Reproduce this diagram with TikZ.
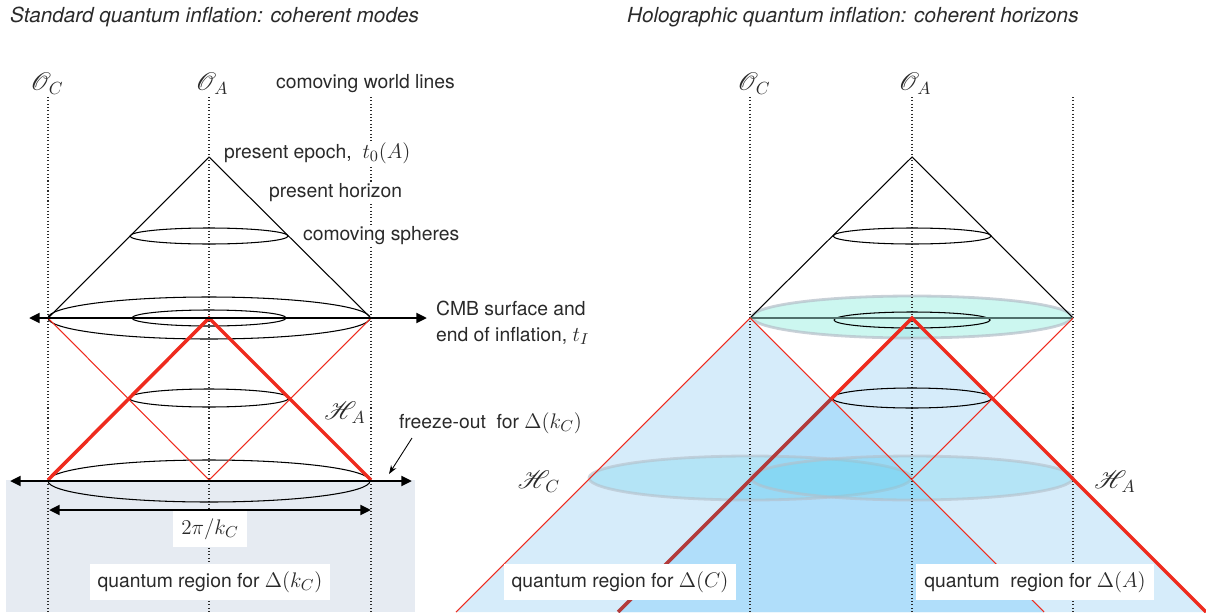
\documentclass[tikz,border=0pt]{standalone}
\usepackage[no-math]{fontspec}
\setmainfont{TeX Gyre Heros}
\usepackage{mathrsfs}
\usetikzlibrary{arrows.meta}
\definecolor{ink}{HTML}{2A2A2A}
\definecolor{hred}{HTML}{EE2B1E}
\definecolor{darkred}{HTML}{B23B3B}
\definecolor{paleblue}{HTML}{D6ECFA}
\definecolor{midblue}{HTML}{B0DEFA}
\definecolor{cyanfill}{HTML}{5AD2EE}
\definecolor{aqua}{HTML}{99EFE1}
\definecolor{rimgray}{HTML}{B4BEC8}
\definecolor{slate}{HTML}{50706C}
\definecolor{fogblue}{HTML}{E6EBF2}

\begin{document}
\begin{tikzpicture}[x=0.02cm,y=-0.02cm,
  every node/.style={font=\fontsize{11}{14.5}\selectfont,text=ink,inner sep=1pt},
  heading/.style={anchor=west,font=\fontsize{11.8}{14}\selectfont\itshape},
  observer/.style={font=\fontsize{14.5}{16}\selectfont},
  note/.style={anchor=west,fill=white},
  tag/.style={fill=white,inner xsep=4.5pt,inner ysep=4pt},
  world/.style={draw=ink,line width=0.6pt,dash pattern=on 0.6pt off 1.3pt},
  cone/.style={draw=black,line width=0.6pt},
  sphere/.style={draw=black,line width=0.6pt},
  horizon/.style={draw=hred,line width=0.6pt},
  horizonA/.style={draw=hred,line width=2pt},
  spanarrow/.style={{Triangle[length=6pt,width=5.5pt]}-{Triangle[length=6pt,width=5.5pt]},line width=1.6pt},
  pointer/.style={-{Stealth[length=5pt,width=3.5pt]},line width=0.5pt},
  shell/.style={fill=cyanfill,fill opacity=0.27,draw=rimgray,draw opacity=0.6,line width=1.6pt}
]
\useasboundingbox (0,0) rectangle (1206,612);

\coordinate (sApex) at (209,157);
\coordinate (sL) at (48,318);
\coordinate (sR) at (371,318);
\coordinate (sMid) at (209,318);
\coordinate (sBL) at (48,480);
\coordinate (sBR) at (371,480);
\coordinate (sFoot) at (209,480);
\coordinate (cmbW) at (29,318);
\coordinate (cmbE) at (427,318);
\coordinate (frzW) at (10,481);
\coordinate (frzE) at (412,481);
\coordinate (waveW) at (49,510);
\coordinate (waveE) at (371,510);
\coordinate (frzTip) at (389,474);

\coordinate (hApex) at (912,157);
\coordinate (hL) at (750,318);
\coordinate (hR) at (1073,318);
\coordinate (hMid) at (912,318);
\coordinate (hX) at (831,399);
\coordinate (hFoot) at (912,479);
\coordinate (hCL) at (456,612);
\coordinate (hCR) at (1044,612);
\coordinate (hAL) at (618,612);
\coordinate (hAR) at (1206,612);

\fill[fogblue] (6,480) rectangle (415,612);
\foreach \x in {48,209,371}
  \draw[world] (\x,97) -- (\x,612);
\draw[cone] (sL) -- (sApex) -- (sR);
\foreach \y/\rx/\ry in {236/79/8,318/161/21,318/77/8,398/80/9,481/161/21}
  \draw[sphere] (209,\y) ellipse [x radius=\rx,y radius=\ry];
\draw[horizon] (sL) -- (sFoot) -- (sR);
\draw[horizonA] (sBL) -- (sMid) -- (sBR);
\draw[spanarrow] (cmbW) -- (cmbE);
\draw[spanarrow] (frzW) -- (frzE);
\draw[spanarrow] (waveW) -- (waveE);

\node[heading] (stdTitle) at (8,17) {Standard quantum inflation: coherent modes};
\node[observer] (sOC) at (47,84) {$\mathscr{O}_C$};
\node[observer] (sOA) at (212,84) {$\mathscr{O}_A$};
\node[note] (worldlines) at (274,84) {comoving world lines};
\node[note] (epoch) at (222,153) {present epoch,\ \ {\fontsize{13}{14}\selectfont$t_0(A)$}};
\node[note] (presHor) at (267,193) {present horizon};
\node[note] (spheres) at (301,236) {comoving spheres};
\node[anchor=west,align=left] (cmb) at (434,323) {CMB surface and\\end of inflation, {\fontsize{13}{14}\selectfont$t_I$}};
\node[observer] (sHA) at (345,413) {$\mathscr{H}_{\,A}$};
\node[anchor=west] (freeze) at (397,423) {freeze-out\ \ for {\fontsize{13}{14}\selectfont$\Delta(k_C)$}};
\node[tag,font=\fontsize{13}{14}\selectfont] (wave) at (210,529) {$2\pi/k_C$};
\node[tag] (sQuant) at (210,582) {quantum region for {\fontsize{13}{14}\selectfont$\Delta(k_C)$}};
\draw[pointer] (412,438) -- (frzTip);

\fill[paleblue] (hL) -- (hCL) -- (hCR) -- cycle;
\fill[paleblue] (hMid) -- (hAL) -- (hAR) -- cycle;
\fill[midblue] (hX) -- (hAL) -- (hCR) -- cycle;
\filldraw[fill=aqua,fill opacity=0.5,draw=rimgray,draw opacity=0.7,line width=1.6pt]
  (912,317) ellipse [x radius=160,y radius=21];
\draw[shell] (750,478) ellipse [x radius=161,y radius=22];
\draw[shell] (912,478) ellipse [x radius=161,y radius=22];
\foreach \x in {750,912,1073}
  \draw[world] (\x,97) -- (\x,612);
\draw[cone] (hL) -- (hApex) -- (hR);
\foreach \y/\rx/\ry in {236/79/8,320/78/8,398/80/10}
  \draw[sphere] (912,\y) ellipse [x radius=\rx,y radius=\ry];
\draw[slate,line width=1.1pt] (hL) -- (hR);
\draw[horizon] (hCL) -- (hL) -- (hCR);
\draw[horizon] (hR) -- (hFoot);
\draw[horizonA] (hX) -- (hMid) -- (hAR);
\draw[horizonA,draw=darkred] (hX) -- (hAL);

\node[heading] (holTitle) at (625,17) {Holographic quantum inflation: coherent horizons};
\node[observer] (hOC) at (754,84) {$\mathscr{O}_C$};
\node[observer] (hOA) at (915,84) {$\mathscr{O}_A$};
\node[observer] (hHC) at (539,482) {$\mathscr{H}_{\,C}$};
\node[observer] (hHA) at (1115,482) {$\mathscr{H}_{\,A}$};
\node[tag] (hQuantC) at (620,582) {quantum region for {\fontsize{13}{14}\selectfont$\Delta(C)$}};
\node[tag] (hQuantA) at (1035,582) {quantum\ \ region for {\fontsize{13}{14}\selectfont$\Delta(A)$}};
\end{tikzpicture}
\end{document}
